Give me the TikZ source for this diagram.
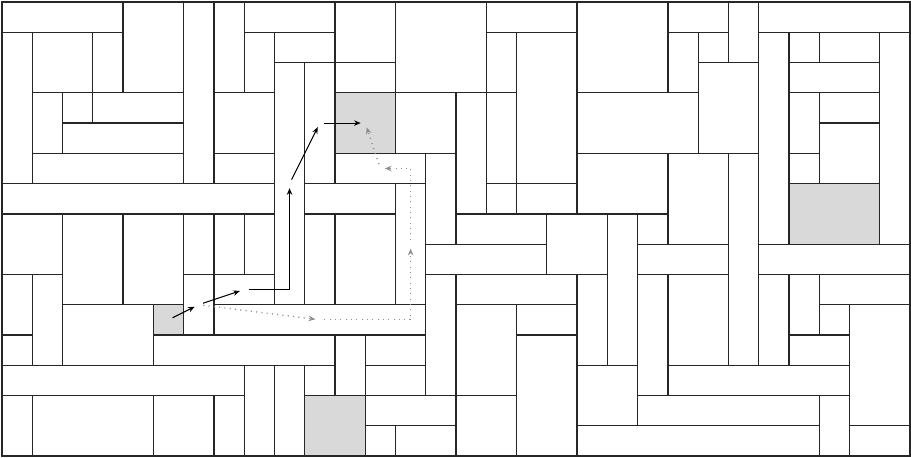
\documentclass[tikz,border=0pt]{standalone}
\usepackage{tikz}
\usetikzlibrary{arrows.meta,fit}
\definecolor{ink}{HTML}{262626}
\definecolor{shade}{HTML}{D9D9D9}
\definecolor{trail}{HTML}{8C8C8C}
\tikzset{
  tile/.style={rectangle, draw=ink, line width=0.6pt, fill=white,
               inner sep=0pt, outer sep=0pt},
  taken/.style={tile, fill=shade},
  hop/.style={-{Stealth[length=1.1mm,width=0.9mm]}, draw=black, line width=0.5pt,
              shorten <=0.75mm, shorten >=0.75mm},
  alt/.style={hop, draw=trail, dotted, line width=0.6pt}
}

\begin{document}
\begin{tikzpicture}[x=5mm, y=5mm]
  \useasboundingbox (-0.066,0.066) rectangle (30.03,-15.06);
  % plain tiles: x1/y1/x2/y2 in grid cells, y counted downwards
  \foreach \a/\b/\c/\d [count=\i] in {
    0/0/4/1, 4/0/6/3, 6/0/7/6, 7/0/8/3, 8/0/11/1, 11/0/13/2, 13/0/16/3, 16/0/19/1,
    19/0/22/3, 22/0/24/1, 24/0/25/2, 25/0/30/1,
    0/1/1/6, 1/1/3/3, 3/1/4/3, 8/1/9/3, 9/1/11/2, 16/1/17/3, 17/1/19/6, 22/1/23/3,
    23/1/24/2, 25/1/26/8, 26/1/27/2, 27/1/29/2, 29/1/30/8,
    11/2/13/3, 23/2/25/5, 26/2/29/3,
    1/3/2/5, 2/3/3/4, 3/3/6/4, 7/3/9/5, 13/3/15/5, 15/3/16/7, 16/3/17/6, 19/3/23/5,
    26/3/27/5, 27/3/29/4,
    2/4/6/5, 27/4/29/6,
    1/5/6/6, 7/5/9/6, 14/5/15/8, 19/5/22/7, 22/5/24/8, 24/5/25/12, 26/5/27/6,
    0/6/9/7, 10/6/13/7, 16/6/17/7, 17/6/19/7,
    0/7/2/9, 2/7/4/10, 4/7/6/10, 6/7/7/9, 7/7/8/9, 8/7/9/9, 10/7/11/10, 11/7/13/10,
    15/7/18/8, 18/7/20/9, 20/7/21/12, 21/7/22/8,
    14/8/18/9, 21/8/24/9, 25/8/30/9,
    0/9/1/11, 1/9/2/12, 14/9/15/13, 15/9/19/10, 19/9/20/12, 21/9/22/13, 22/9/24/12,
    25/9/26/12, 26/9/27/11, 27/9/30/10,
    2/10/5/12, 15/10/17/13, 17/10/19/11, 27/10/28/11, 28/10/30/14,
    0/11/1/12, 5/11/11/12, 11/11/12/13, 12/11/14/12, 17/11/19/15, 26/11/28/12,
    0/12/8/13, 8/12/9/15, 9/12/10/15, 10/12/11/13, 12/12/14/13, 19/12/21/14, 22/12/28/13,
    0/13/1/15, 1/13/5/15, 5/13/7/15, 7/13/8/15, 12/13/15/14, 15/13/17/15, 21/13/27/14,
    27/13/28/15,
    12/14/13/15, 13/14/15/15, 19/14/27/15, 28/14/30/15}
    \node[tile, fit={(\a,-\b) (\c,-\d)}] (t\i) {};
  % occupied cells
  \node[taken, fit={(26,-6) (29,-8)}] (occA) {};
  \node[taken, fit={(10,-13) (12,-15)}] (occB) {};
  % cells on the routes
  \node[taken, fit={(5,-10) (6,-11)}] (src) {};
  \node[taken, fit={(11,-3) (13,-5)}] (dst) {};
  \node[tile, fit={(6,-9) (7,-11)}] (ra) {};
  \node[tile, fit={(7,-9) (9,-10)}] (rb) {};
  \node[tile, fit={(9,-2) (10,-10)}] (rc) {};
  \node[tile, fit={(10,-2) (11,-6)}] (rd) {};
  \node[tile, fit={(7,-10) (14,-11)}] (re) {};
  \node[tile, fit={(13,-6) (14,-10)}] (rf) {};
  \node[tile, fit={(11,-5) (14,-6)}] (rg) {};
  % main route
  \draw[hop] (src.center) -- (ra.center);
  \draw[hop] (ra.center) -- (rb.center);
  \draw[hop] (rb.center) -| (rc.center);
  \draw[hop] (rc.center) -- (rd.center);
  \draw[hop] (rd.center) -- (dst.center);
  % detour
  \draw[alt] (ra.center) -- (re.center);
  \draw[alt] (re.center) -| (rf.center);
  \draw[alt] (rf.center) |- (rg.center);
  \draw[alt] (rg.center) -- (dst.center);
\end{tikzpicture}
\end{document}
